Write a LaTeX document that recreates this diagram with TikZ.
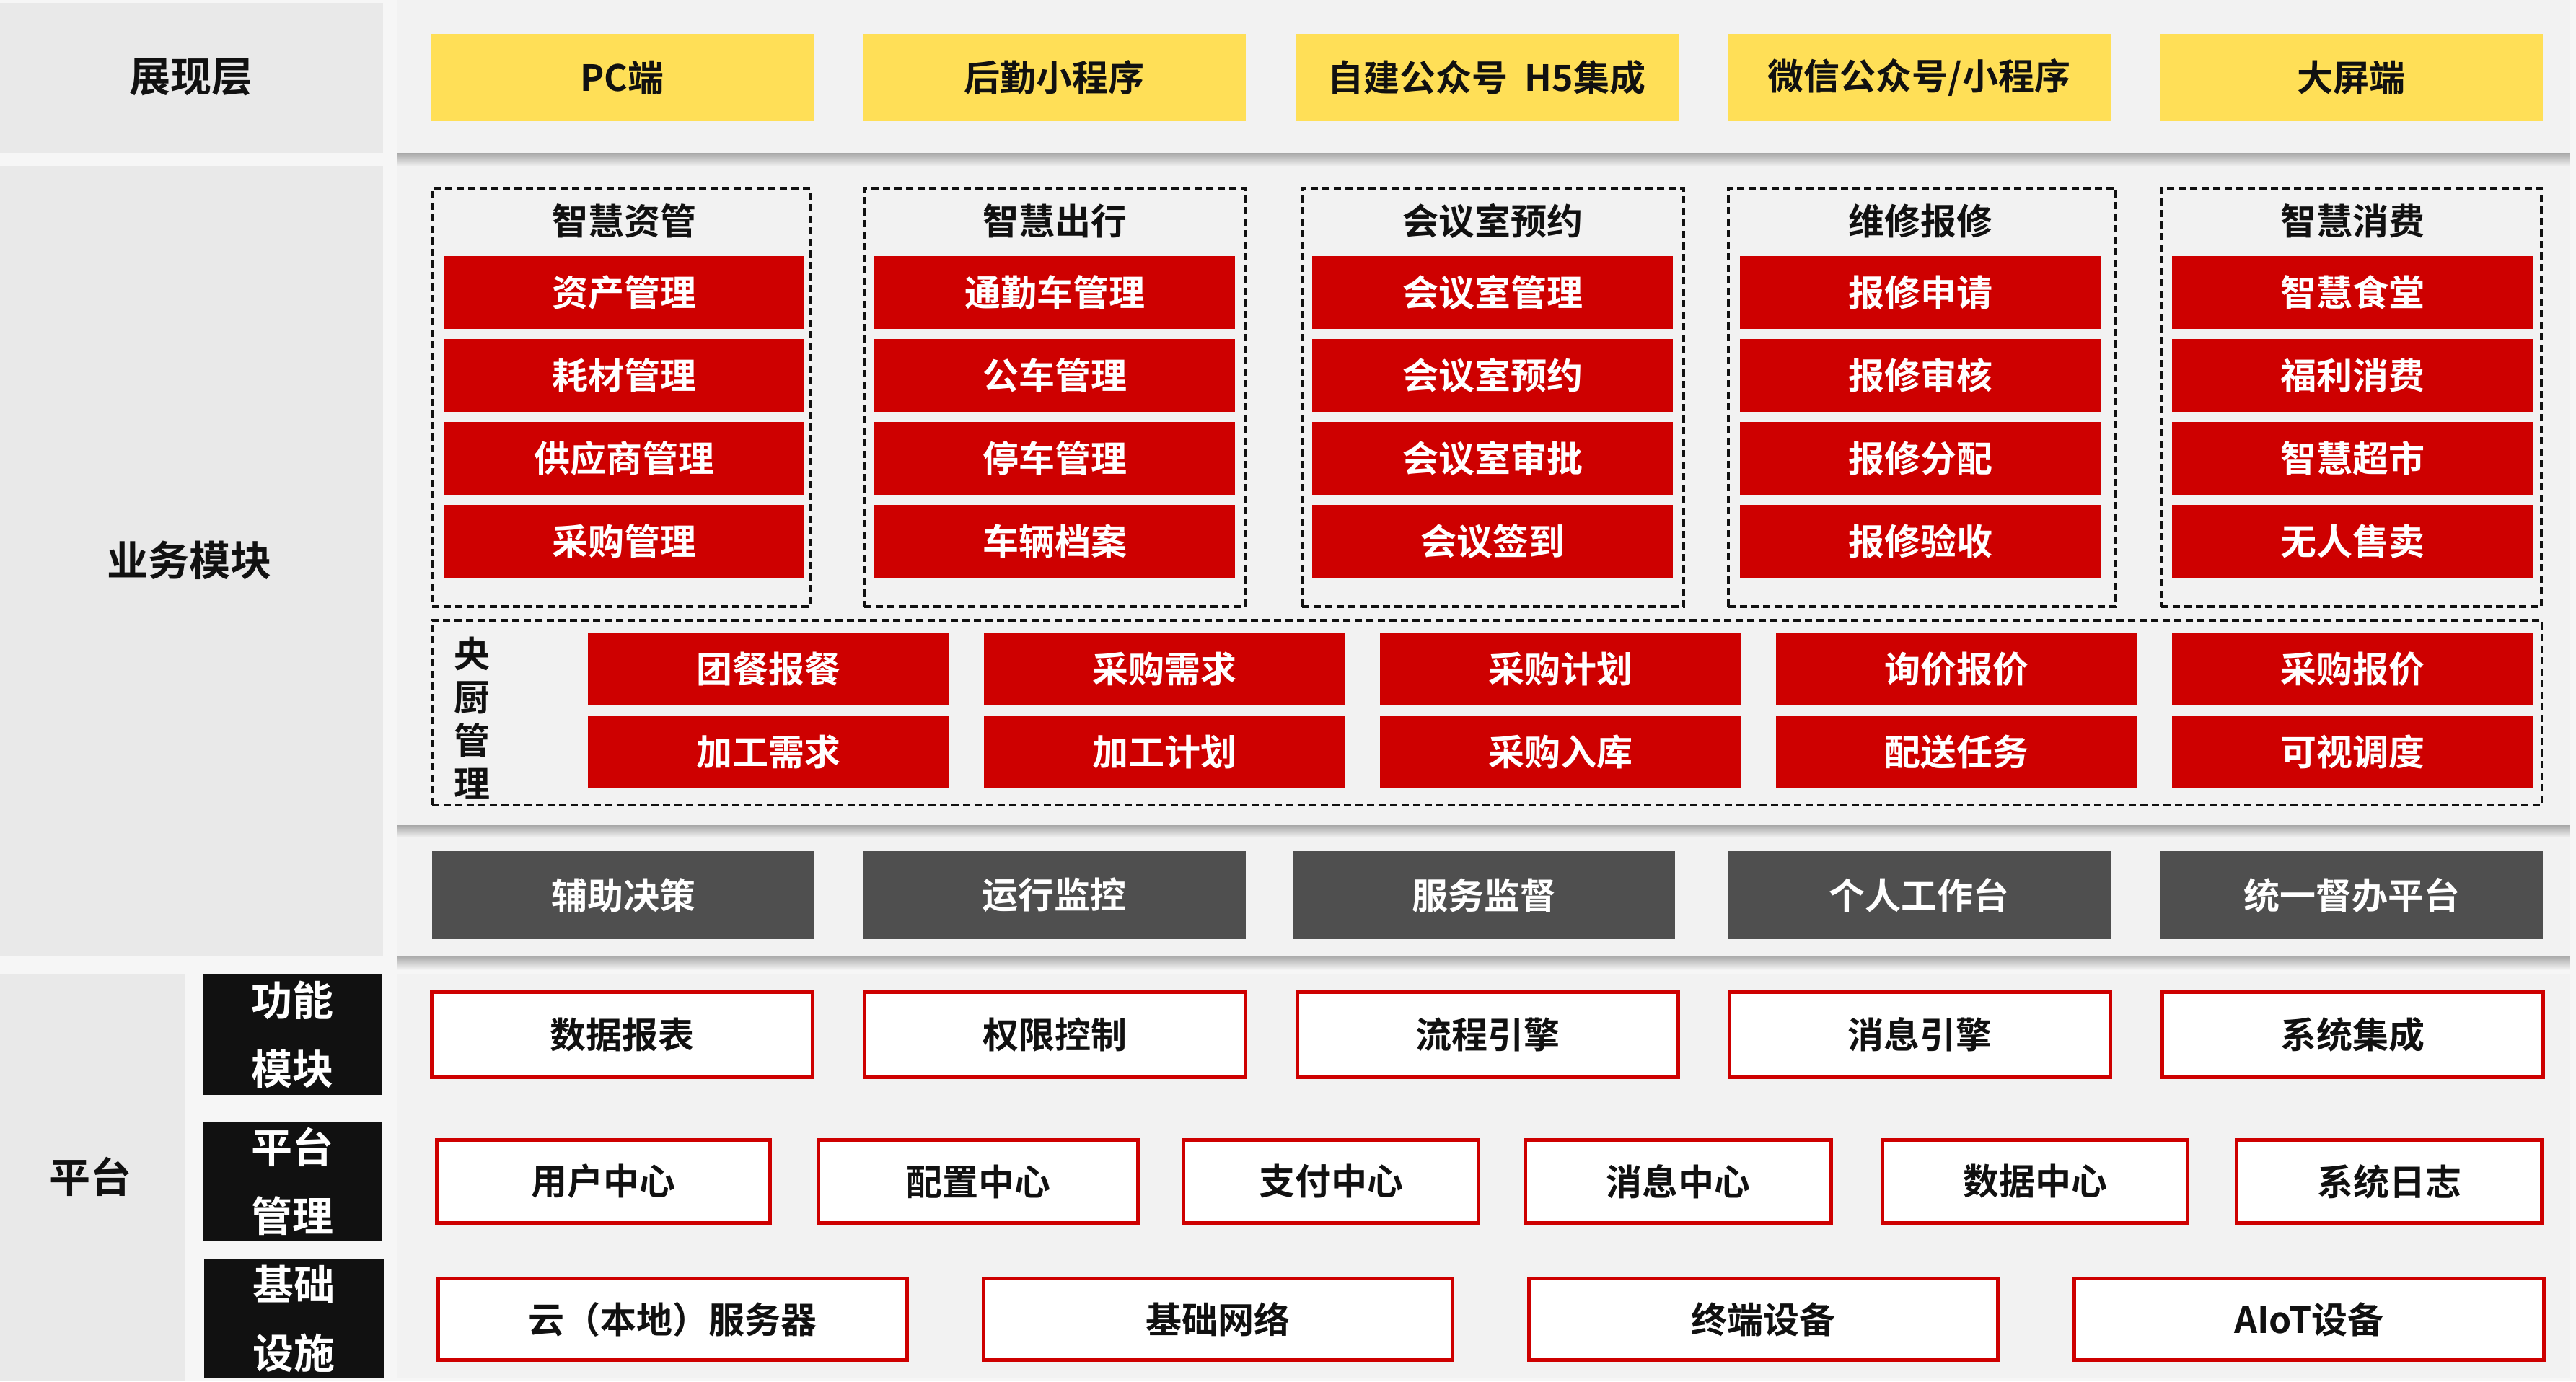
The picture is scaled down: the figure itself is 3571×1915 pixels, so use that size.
\documentclass[tikz,border=0pt]{standalone}
\usepackage{fontspec}
\setmainfont{Noto Sans CJK SC}[BoldFont={* Bold}]

\definecolor{bgcol}{HTML}{F6F6F6}
\definecolor{sidegray}{HTML}{E9E9E9}
\definecolor{panelgray}{HTML}{F2F2F2}
\definecolor{shadowgray}{HTML}{A8A8A8}
\definecolor{ptyellow}{HTML}{FFDF57}
\definecolor{ptred}{HTML}{CE0000}
\definecolor{darkbox}{HTML}{4F4F4F}
\definecolor{inkblack}{HTML}{111111}

\tikzset{
  every node/.style={inner sep=0pt, outer sep=0pt, text=inkblack,
    font=\bfseries\fontsize{50}{60}\selectfont},
  sidetext/.style={font=\bfseries\fontsize{57}{95}\selectfont, align=center},
  ybox/.style={fill=ptyellow, minimum width=531pt, minimum height=121pt},
  redbox/.style={fill=ptred, text=white, minimum width=500pt, minimum height=101pt},
  darkbox/.style={fill=darkbox, text=white, minimum width=530pt, minimum height=122pt},
  platbox/.style={fill=white, draw=ptred, line width=5pt},
  blackbox/.style={sidetext, fill=inkblack, text=white, minimum width=249pt},
  groupbox/.style={draw=inkblack, line width=3.5pt, dash pattern=on 10pt off 6pt,
    minimum height=580pt},
}

\begin{document}
\begin{tikzpicture}[x=1pt,y=-1pt]
\fill[bgcol] (0,0) rectangle (3571,1915);
\useasboundingbox (0,0) rectangle (3571,1915);

% panels
\fill[sidegray] (0,4) rectangle (531,212);
\fill[sidegray] (0,230) rectangle (531,1325);
\fill[sidegray] (0,1350) rectangle (256,1915);
\shade[top color=shadowgray, bottom color=bgcol] (550,212) rectangle (3562,232);
\shade[top color=shadowgray, bottom color=bgcol] (550,1144) rectangle (3562,1162);
\shade[top color=shadowgray, bottom color=bgcol] (550,1325) rectangle (3562,1345);
\fill[panelgray] (550,0) rectangle (3562,212);
\fill[panelgray] (550,230) rectangle (3562,1144);
\fill[panelgray] (550,1162) rectangle (3562,1325);
\fill[panelgray] (550,1350) rectangle (3562,1911);

\path (265,107) node[sidetext] (zhanxian) {展现层}
      (262,777) node[sidetext] (yewu) {业务模块}
      (125,1631) node[sidetext] (pingtai) {平台}
      ;

% presentation layer
\path (862.5,107.5) node[ybox] (pc) {PC端}
      (1461.5,107.5) node[ybox] (houqin) {后勤小程序}
      (2061,107.5) node[ybox] (zijian) {自建公众号\ \ H5集成}
      (2660.5,107.5) node[ybox] (weixin) {微信公众号/小程序}
      (3259.5,107.5) node[ybox] (daping) {大屏端}
      ;

% business groups
\path (861,551) node[groupbox, minimum width=524pt] (zichan) {}
      (1462,551) node[groupbox, minimum width=528pt] (chuxing) {}
      (2069.5,551) node[groupbox, minimum width=529pt] (huiyi) {}
      (2664.5,551) node[groupbox, minimum width=537pt] (weixiu) {}
      (3259.5,551) node[groupbox, minimum width=527pt] (xiaofei) {}
      (865,306) node (zichant) {智慧资管}
      (1462,306) node (chuxingt) {智慧出行}
      (2069,306) node (huiyit) {会议室预约}
      (2662,306) node (weixiut) {维修报修}
      (3261,306) node (xiaofeit) {智慧消费}
      ;
\path (865,405.5) node[redbox] (zc1) {资产管理}
      (865,520.5) node[redbox] (zc2) {耗材管理}
      (865,635.5) node[redbox] (zc3) {供应商管理}
      (865,750.5) node[redbox] (zc4) {采购管理}
      (1462,405.5) node[redbox] (cx1) {通勤车管理}
      (1462,520.5) node[redbox] (cx2) {公车管理}
      (1462,635.5) node[redbox] (cx3) {停车管理}
      (1462,750.5) node[redbox] (cx4) {车辆档案}
      (2069,405.5) node[redbox] (hy1) {会议室管理}
      (2069,520.5) node[redbox] (hy2) {会议室预约}
      (2069,635.5) node[redbox] (hy3) {会议室审批}
      (2069,750.5) node[redbox] (hy4) {会议签到}
      (2662,405.5) node[redbox] (wx1) {报修申请}
      (2662,520.5) node[redbox] (wx2) {报修审核}
      (2662,635.5) node[redbox] (wx3) {报修分配}
      (2662,750.5) node[redbox] (wx4) {报修验收}
      (3261,405.5) node[redbox] (xf1) {智慧食堂}
      (3261,520.5) node[redbox] (xf2) {福利消费}
      (3261,635.5) node[redbox] (xf3) {智慧超市}
      (3261,750.5) node[redbox] (xf4) {无人售卖}
      ;

% central kitchen
\path (2061,988) node[groupbox, minimum width=2924.5pt, minimum height=256.5pt] (yangchu) {}
      (654,996) node[align=center] (yangchut) {央\\厨\\管\\理}
      (1065,927.5) node[redbox] (yc1) {团餐报餐}
      (1614,927.5) node[redbox] (yc2) {采购需求}
      (2163,927.5) node[redbox] (yc3) {采购计划}
      (2712,927.5) node[redbox] (yc4) {询价报价}
      (3261,927.5) node[redbox] (yc5) {采购报价}
      (1065,1042.5) node[redbox] (yc6) {加工需求}
      (1614,1042.5) node[redbox] (yc7) {加工计划}
      (2163,1042.5) node[redbox] (yc8) {采购入库}
      (2712,1042.5) node[redbox] (yc9) {配送任务}
      (3261,1042.5) node[redbox] (yc10) {可视调度}
      ;

% support row
\path (864,1241) node[darkbox] (juece) {辅助决策}
      (1461.5,1241) node[darkbox] (jiankong) {运行监控}
      (2057,1241) node[darkbox] (jiandu) {服务监督}
      (2660.5,1241) node[darkbox] (gongzuo) {个人工作台}
      (3260,1241) node[darkbox] (duban) {统一督办平台}
      ;

% platform
\path (405.5,1434) node[blackbox, minimum height=168pt] (gongneng) {功能\\模块}
      (405.5,1638) node[blackbox, minimum height=166pt] (guanli) {平台\\管理}
      (407,1828) node[blackbox, minimum height=166pt] (sheshi) {基础\\设施}
      ;
\path (862.5,1434.5) node[platbox, minimum width=528pt, minimum height=118pt] (baobiao) {数据报表}
      (1462,1434.5) node[platbox, minimum width=528pt, minimum height=118pt] (quanxian) {权限控制}
      (2062,1434.5) node[platbox, minimum width=528pt, minimum height=118pt] (liucheng) {流程引擎}
      (2661,1434.5) node[platbox, minimum width=528pt, minimum height=118pt] (xiaoxiyq) {消息引擎}
      (3261,1434.5) node[platbox, minimum width=528pt, minimum height=118pt] (jicheng) {系统集成}
      (836.5,1638) node[platbox, minimum width=462pt, minimum height=115pt] (yonghu) {用户中心}
      (1356,1638) node[platbox, minimum width=443pt, minimum height=115pt] (peizhi) {配置中心}
      (1845,1638) node[platbox, minimum width=409pt, minimum height=115pt] (zhifu) {支付中心}
      (2326.5,1638) node[platbox, minimum width=424pt, minimum height=115pt] (xiaoxi) {消息中心}
      (2821,1638) node[platbox, minimum width=423pt, minimum height=115pt] (shuju) {数据中心}
      (3312,1638) node[platbox, minimum width=423pt, minimum height=115pt] (rizhi) {系统日志}
      (932.5,1829) node[platbox, minimum width=650pt, minimum height=113pt] (fuwuqi) {云（本地）服务器}
      (1688.5,1829) node[platbox, minimum width=650pt, minimum height=113pt] (wangluo) {基础网络}
      (2444.5,1829) node[platbox, minimum width=650pt, minimum height=113pt] (zhongduan) {终端设备}
      (3201,1829) node[platbox, minimum width=651pt, minimum height=113pt] (aiot) {AIoT设备}
      ;
\end{tikzpicture}
\end{document}
